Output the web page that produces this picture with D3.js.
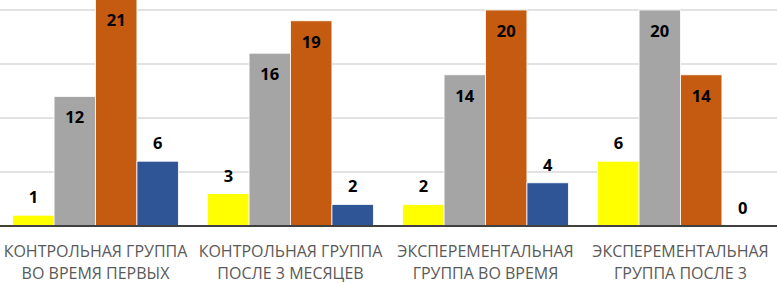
<!DOCTYPE html>
<html lang="ru">
	<head>
		<meta charset="utf-8">
		<title>Группы</title>
		<script src="https://cdn.jsdelivr.net/npm/d3@7"></script>
		<style>
			body { margin: 0; background: #fff; }
			.cat { font-family: "Open Sans", sans-serif; font-size: 16px; fill: #595959; }
			.val { font-family: "Open Sans", sans-serif; font-size: 16.5px; font-weight: bold; fill: #000; }
		</style>
	</head>
	<body>
		<script>
			var w = 777;
			var h = 283;

			// categories (visible lines of each label)
			var categories = [
				["КОНТРОЛЬНАЯ ГРУППА", "ВО ВРЕМЯ ПЕРВЫХ"],
				["КОНТРОЛЬНАЯ ГРУППА", "ПОСЛЕ 3 МЕСЯЦЕВ"],
				["ЭКСПЕРЕМЕНТАЛЬНАЯ", "ГРУППА ВО ВРЕМЯ"],
				["ЭКСПЕРЕМЕНТАЛЬНАЯ", "ГРУППА ПОСЛЕ 3"]
			];
			var seriesNames = ["s1", "s2", "s3", "s4"];
			var s1 = [1, 3, 2, 6];
			var s2 = [12, 16, 14, 20];
			var s3 = [21, 19, 20, 14];
			var s4 = [6, 2, 4, 0];
			var seriesColors = ["#ffff00", "#a5a5a5", "#c55a11", "#2f5597"];
			var yTicks = [0, 5, 10, 15, 20];

			var allSeries = [s1, s2, s3, s4];

			var svg = d3.select("body").append("svg")
				.attr("width", w)
				.attr("height", h);

			var xScale = d3.scaleBand()
				.domain(d3.range(categories.length))
				.range([-2, 778])
				.paddingInner(0.15)
				.paddingOuter(0.075);

			var xInner = d3.scaleBand()
				.domain(seriesNames)
				.range([0, xScale.bandwidth()]);

			var yScale = d3.scaleLinear()
				.domain([0, 20])
				.range([226, 10]);

			// gridlines
			svg.selectAll("line.grid")
				.data(yTicks.slice(1))
				.enter()
				.append("line")
				.attr("class", "grid")
				.attr("x1", 0)
				.attr("x2", w)
				.attr("y1", function(d){ return yScale(d); })
				.attr("y2", function(d){ return yScale(d); })
				.style("stroke", "#d9d9d9")
				.style("stroke-width", 1.5);

			var rows = [];
			allSeries.forEach(function(arr, si){
				arr.forEach(function(v, ci){
					rows.push({ c: ci, s: seriesNames[si], color: seriesColors[si], v: v });
				});
			});

			svg.selectAll("rect.bar")
				.data(rows)
				.enter()
				.append("rect")
				.attr("class", "bar")
				.attr("x", function(d){ return xScale(d.c) + xInner(d.s); })
				.attr("y", function(d){ return yScale(d.v); })
				.attr("width", xInner.bandwidth())
				.attr("height", function(d){ return yScale(0) - yScale(d.v); })
				.style("fill", function(d){ return d.color; })
				.style("stroke", "#fff")
				.style("stroke-width", 0.8);

			// baseline
			svg.append("line")
				.attr("x1", 0)
				.attr("x2", w)
				.attr("y1", yScale(0))
				.attr("y2", yScale(0))
				.style("stroke", "#404040")
				.style("stroke-width", 2);

			// value labels: inside end for tall bars, outside end for short ones
			svg.selectAll("text.val")
				.data(rows)
				.enter()
				.append("text")
				.attr("class", "val")
				.attr("text-anchor", "middle")
				.attr("x", function(d){ return xScale(d.c) + xInner(d.s) + xInner.bandwidth() / 2; })
				.attr("y", function(d){
					return d.v >= 10 ? yScale(d.v) + 27 : yScale(d.v) - 12;
				})
				.text(function(d){ return d.v; });

			// category labels
			var cat = svg.selectAll("text.cat")
				.data(categories)
				.enter()
				.append("text")
				.attr("class", "cat")
				.attr("text-anchor", "middle")
				.attr("x", function(d, i){ return xScale(i) + xScale.bandwidth() / 2; })
				.attr("y", 257);

			cat.selectAll("tspan")
				.data(function(d){ return d; })
				.enter()
				.append("tspan")
				.attr("x", function(){ return d3.select(this.parentNode).attr("x"); })
				.attr("dy", function(d, i){ return i === 0 ? 0 : 21.5; })
				.text(function(d){ return d; });
		</script>
	</body>
</html>
